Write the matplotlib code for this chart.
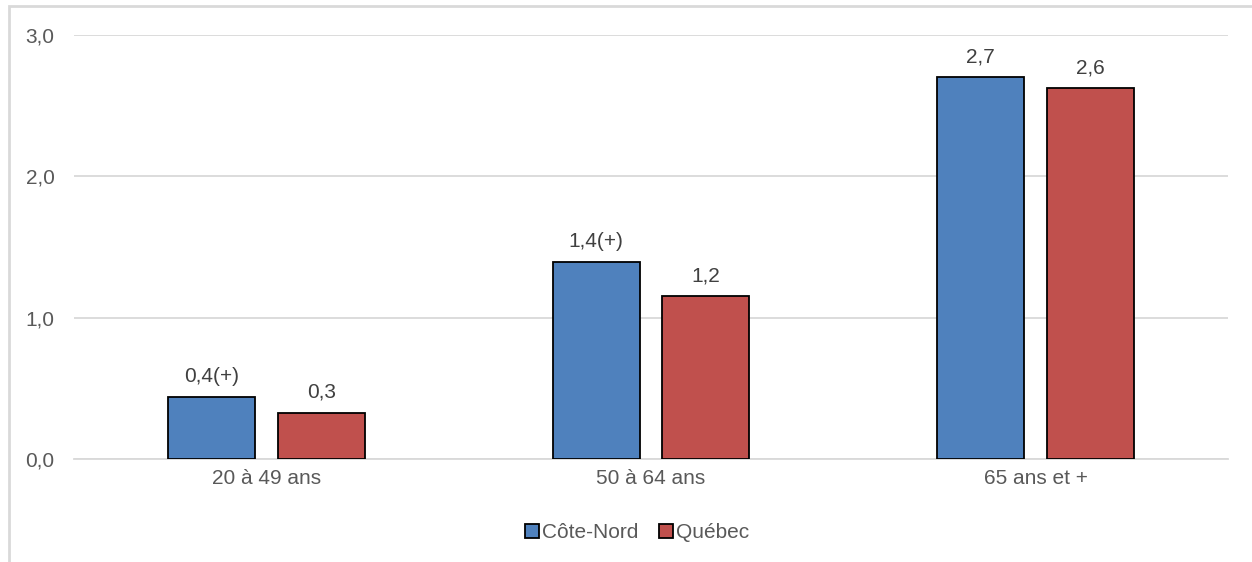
import matplotlib
matplotlib.use("Agg")
import matplotlib.pyplot as plt
from matplotlib.patches import Rectangle
import numpy as np

categories = ["20 à 49 ans", "50 à 64 ans", "65 ans et +"]
series_names = ["Côte-Nord", "Québec"]
cote_nord = [0.44, 1.395, 2.70]
quebec = [0.325, 1.15, 2.62]
cote_nord_labels = ["0,4(+)", "1,4(+)", "2,7"]
quebec_labels = ["0,3", "1,2", "2,6"]
yticks = [0.0, 1.0, 2.0, 3.0]
ytick_labels = ["0,0", "1,0", "2,0", "3,0"]

plt.rcParams['font.family'] = ['Liberation Sans', 'DejaVu Sans']
TXT = "#595959"
GRID = "#D9D9D9"
BLUE = "#4F81BD"
RED = "#C0504D"
FS = 15

W, H = 1252, 562
fig = plt.figure(figsize=(W / 100, H / 100), dpi=100)
ax = fig.add_axes([74 / W, 1 - 459 / H, (1228 - 74) / W, (459 - 34.7) / H])

x = np.arange(len(categories))
bw = 0.226
off = 0.1425
b1 = ax.bar(x - off, cote_nord, bw, color=BLUE, edgecolor="black", linewidth=1.3,
            label=series_names[0], zorder=3)
b2 = ax.bar(x + off, quebec, bw, color=RED, edgecolor="black", linewidth=1.3,
            label=series_names[1], zorder=3)

for rect, lab in zip(b1, cote_nord_labels):
    ax.annotate(lab, (rect.get_x() + rect.get_width() / 2, rect.get_height()),
                xytext=(0, 8), textcoords="offset points", ha="center", va="bottom",
                fontsize=FS, color="#404040")
for rect, lab in zip(b2, quebec_labels):
    ax.annotate(lab, (rect.get_x() + rect.get_width() / 2, rect.get_height()),
                xytext=(0, 8), textcoords="offset points", ha="center", va="bottom",
                fontsize=FS, color="#404040")

ax.set_xlim(-0.5, 2.5)
ax.set_ylim(0, 3.0)
ax.set_yticks(yticks)
ax.set_yticklabels(ytick_labels, fontsize=FS, color=TXT)
ax.set_xticks(x)
ax.set_xticklabels(categories, fontsize=FS, color=TXT)
ax.tick_params(axis="both", length=0)
ax.tick_params(axis="y", pad=14)
ax.tick_params(axis="x", pad=7)
ax.yaxis.grid(True, color=GRID, linewidth=1.3, zorder=0)
ax.set_axisbelow(True)
for s in ["top", "right", "left"]:
    ax.spines[s].set_visible(False)
ax.spines["bottom"].set_color(GRID)
ax.spines["bottom"].set_linewidth(1.3)

leg = fig.legend(handles=[b1, b2], labels=series_names, loc="center",
                 bbox_to_anchor=(637 / W, 1 - 533 / H), ncol=2, frameon=False,
                 fontsize=FS, handlelength=0.65, handleheight=0.65,
                 handletextpad=0.15, columnspacing=1.0)
for t in leg.get_texts():
    t.set_color(TXT)

# outer frame (light grey, partially visible)
fig.patches.append(Rectangle((8.5 / W, -0.1), 1.2, (1 - 6 / H) + 0.1,
                             transform=fig.transFigure, fill=False,
                             edgecolor=GRID, linewidth=2, zorder=0))

fig.savefig("out.png", dpi=100)
